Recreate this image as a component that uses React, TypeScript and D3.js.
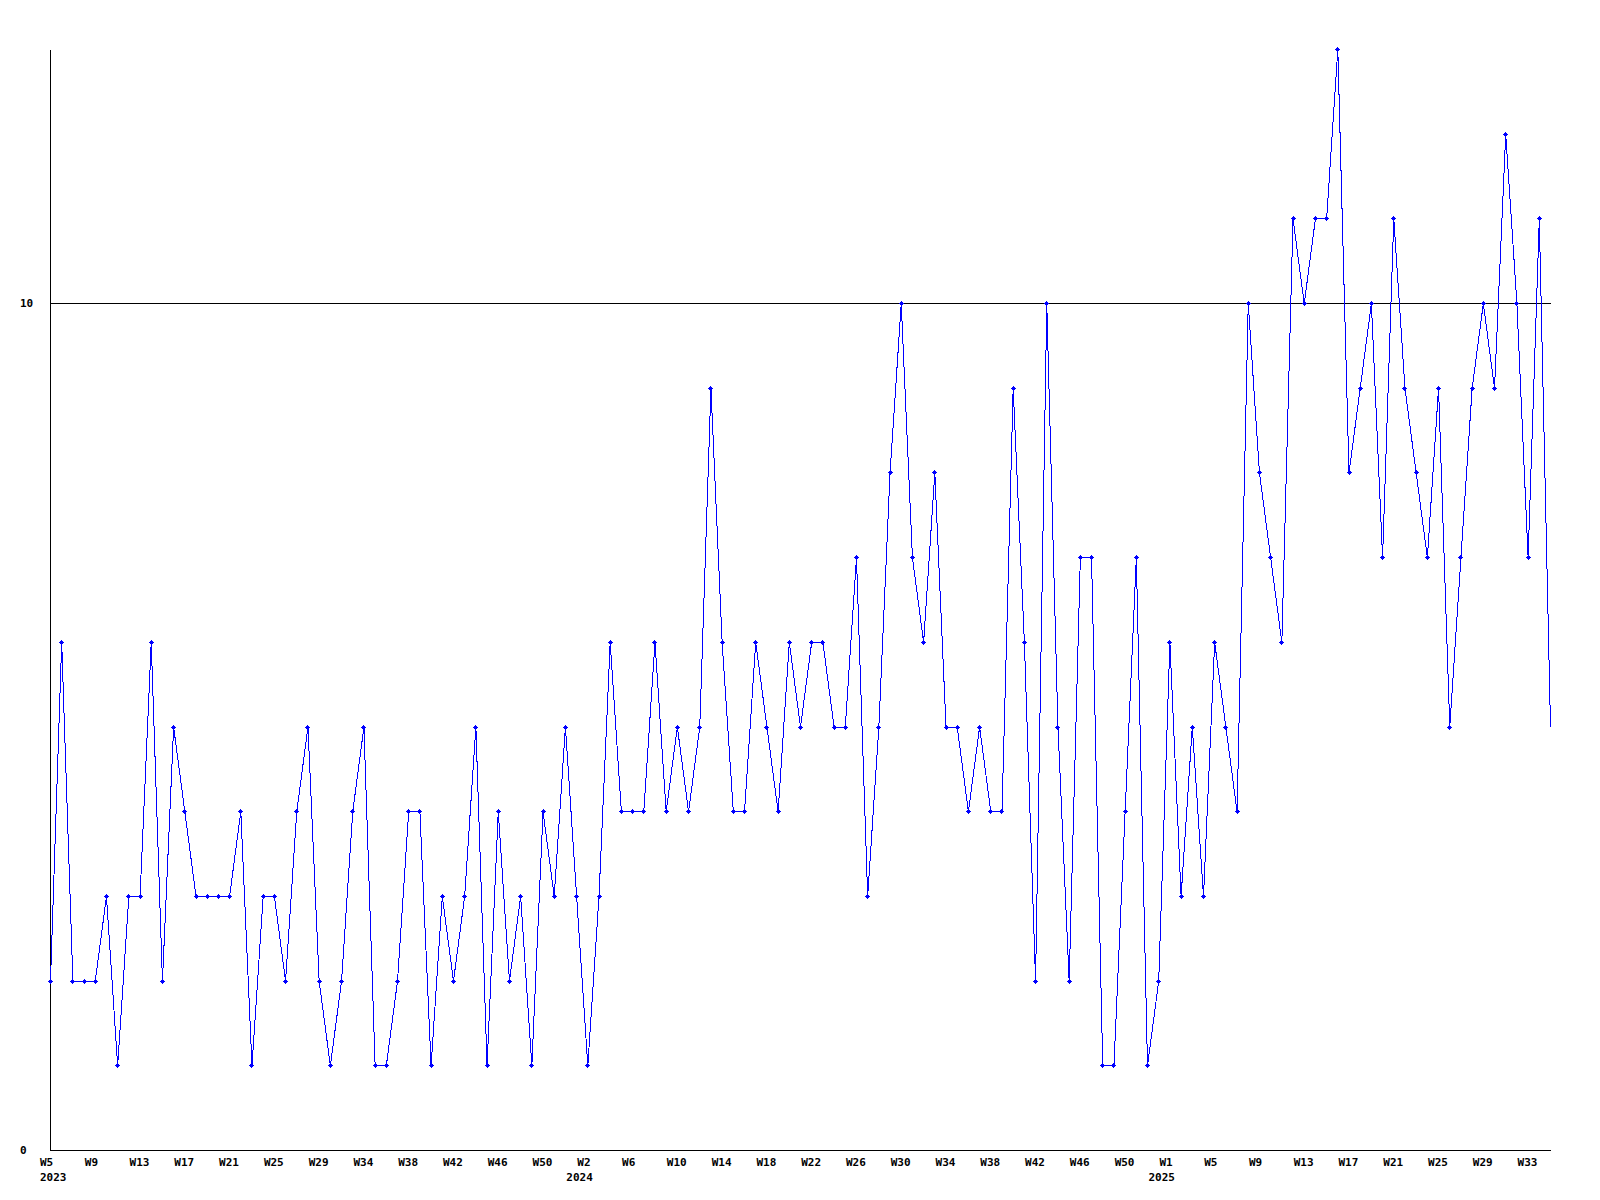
import React from "react";
import * as d3 from "d3";

// Weekly values, starting 2023 W5 (one point per week)
const values: number[] = [
  2, 6, 2, 2, 2, 3, 1, 3, 3, 6,
  2, 5, 4, 3, 3, 3, 3, 4, 1, 3,
  3, 2, 4, 5, 2, 1, 2, 4, 5, 1,
  1, 2, 4, 4, 1, 3, 2, 3, 5, 1,
  4, 2, 3, 1, 4, 3, 5, 3, 1, 3,
  6, 4, 4, 4, 6, 4, 5, 4, 5, 9,
  6, 4, 4, 6, 5, 4, 6, 5, 6, 6,
  5, 5, 7, 3, 5, 8, 10, 7, 6, 8,
  5, 5, 4, 5, 4, 4, 9, 6, 2, 10,
  5, 2, 7, 7, 1, 1, 4, 7, 1, 2,
  6, 3, 5, 3, 6, 5, 4, 10, 8, 7,
  6, 11, 10, 11, 11, 13, 8, 9, 10, 7,
  11, 9, 8, 7, 9, 5, 7, 9, 10, 9,
  12, 10, 7, 11, 5,
];

// x tick labels: every 4th week
const weekLabels: string[] = [
  "W5", "W9", "W13", "W17", "W21", "W25", "W29", "W34", "W38", "W42", "W46", "W50", "W2",
  "W6", "W10", "W14", "W18", "W22", "W26", "W30", "W34", "W38", "W42", "W46", "W50", "W1",
  "W5", "W9", "W13", "W17", "W21", "W25", "W29", "W33",
];
const labelStep = 4;

const yearLabels: string[] = ["2023", "2024", "2025"];
const yearLabelIndex: number[] = [0, 48, 100];

const yTicks: number[] = [0, 10];
const yMax = 13;

const FONT = "'DejaVu Sans Mono', 'Liberation Mono', monospace";

export default function App() {
  const x = d3.scaleLinear().domain([0, values.length - 1]).range([50.5, 1550.5]);
  const y = d3.scaleLinear().domain([0, yMax]).range([1150.5, 49.5]);

  const line = d3
    .line<number>()
    .x((_, i) => x(i))
    .y((d) => y(d));

  // small pixel diamond / plus marker centred on pixel (px, py)
  const marker = (px: number, py: number) =>
    `M${px},${py - 2}h1v1h1v1h1v1h-1v1h-1v1h-1v-1h-1v-1h-1v-1h1v-1h1z`;

  return (
    <svg
      width={1600}
      height={1200}
      style={{ position: "absolute", left: 0, top: 0, background: "#fff" }}
      fontFamily={FONT}
      fontWeight="bold"
      fontSize={11}
    >
      <rect x={0} y={0} width={1600} height={1200} fill="#fff" />
      {/* gridline at 10 */}
      {yTicks
        .filter((t) => t > 0)
        .map((t) => (
          <line
            key={"g" + t}
            x1={50}
            x2={1551}
            y1={y(t)}
            y2={y(t)}
            stroke="#000"
            strokeWidth={1}
            shapeRendering="crispEdges"
          />
        ))}
      {/* axes */}
      <line x1={50.5} x2={50.5} y1={50} y2={1151} stroke="#000" strokeWidth={1} shapeRendering="crispEdges" />
      <line x1={50} x2={1551} y1={1150.5} y2={1150.5} stroke="#000" strokeWidth={1} shapeRendering="crispEdges" />

      {/* y labels */}
      {yTicks.map((t) => (
        <text key={"y" + t} x={20} y={y(t)} dominantBaseline="central" fill="#000">
          {t}
        </text>
      ))}

      {/* x labels */}
      {weekLabels.map((w, k) => (
        <text key={"w" + k} x={x(k * labelStep) - 10.5} y={1166} fill="#000">
          {w}
        </text>
      ))}
      {yearLabels.map((yl, k) => (
        <text
          key={"yr" + k}
          x={Math.max(x(yearLabelIndex[k]) - 21.5, x(0) - 10.5)}
          y={1181}
          fill="#000"
        >
          {yl}
        </text>
      ))}

      {/* data line */}
      <path d={line(values) || ""} fill="none" stroke="#0000ff" strokeWidth={1} shapeRendering="crispEdges" />
      {values.map((v, i) =>
        i === values.length - 1 ? null : (
          <path key={"m" + i} d={marker(Math.floor(x(i)), Math.floor(y(v)))} fill="#0000ff" shapeRendering="crispEdges" />
        )
      )}
    </svg>
  );
}
